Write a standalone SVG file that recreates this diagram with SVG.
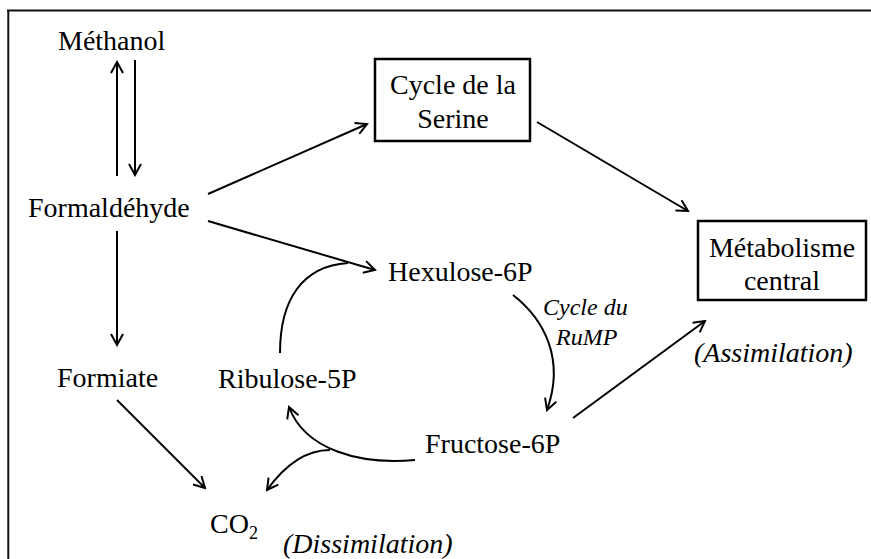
<svg xmlns="http://www.w3.org/2000/svg" width="871" height="559" viewBox="0 0 871 559">
  <defs>
    <marker id="arr" viewBox="0 0 14 14" markerUnits="userSpaceOnUse" markerWidth="14" markerHeight="14" refX="12" refY="7" orient="auto">
      <path d="M1,1 L12,7 L1,13" fill="none" stroke="#000" stroke-width="2"/>
    </marker>
    <style>
      .t { font-family: "Liberation Serif", "Times New Roman", serif; font-size: 28px; fill: #000; }
      .i { font-family: "Liberation Serif", "Times New Roman", serif; font-style: italic; font-size: 28px; fill: #000; }
      .s { font-family: "Liberation Serif", "Times New Roman", serif; font-style: italic; font-size: 24px; fill: #000; }
      .box { fill: none; stroke: #000; stroke-width: 2.5; }
      .c { fill: none; stroke: #000; stroke-width: 2; }
      .a { fill: none; stroke: #000; stroke-width: 2; marker-end: url(#arr); }
    </style>
  </defs>
  <rect width="871" height="559" fill="#fff"/>
  <g id="frame">
    <line x1="7" y1="10.5" x2="871" y2="10.5" stroke="#111" stroke-width="2"/>
    <line x1="8.3" y1="10" x2="8.3" y2="559" stroke="#111" stroke-width="2"/>
  </g>

  <g id="methanol"><text class="t" x="58" y="50">Méthanol</text></g>
  <g id="formaldehyde"><text class="t" x="28" y="217">Formaldéhyde</text></g>
  <g id="serine">
    <rect class="box" x="375" y="59" width="155" height="82"/>
    <text class="t" x="453" y="94" text-anchor="middle">Cycle de la</text>
    <text class="t" x="453" y="128" text-anchor="middle">Serine</text>
  </g>
  <g id="metabolisme">
    <rect class="box" x="698" y="221" width="168" height="79"/>
    <text class="t" x="782" y="257" text-anchor="middle">Métabolisme</text>
    <text class="t" x="782" y="290" text-anchor="middle">central</text>
  </g>
  <g id="assimilation"><text class="i" x="694" y="362">(Assimilation)</text></g>
  <g id="hexulose"><text class="t" x="388" y="281">Hexulose-6P</text></g>
  <g id="rump">
    <text class="s" x="543" y="315">Cycle du</text>
    <text class="s" x="556" y="345">RuMP</text>
  </g>
  <g id="formiate"><text class="t" x="57" y="387">Formiate</text></g>
  <g id="ribulose"><text class="t" x="218" y="388">Ribulose-5P</text></g>
  <g id="fructose"><text class="t" x="425" y="453">Fructose-6P</text></g>
  <g id="co2"><text class="t" x="210" y="533">CO<tspan font-size="18" dy="6">2</tspan></text></g>
  <g id="dissimilation"><text class="i" x="283" y="553">(Dissimilation)</text></g>

  <g id="connectors">
    <path class="a" d="M117,176 L117,62"/>
    <path class="a" d="M135,60 L135,175"/>
    <path class="a" d="M208,194 L367,124"/>
    <path class="a" d="M208,221 L375,270"/>
    <path class="c" d="M280,353 C280,300 302,266 348,263"/>
    <path class="a" d="M537,122 L688,211"/>
    <path class="a" d="M513,295 C545,320 565,360 547,410"/>
    <path class="a" d="M573,418 L705,321"/>
    <path class="a" d="M117,231 L117,345"/>
    <path class="a" d="M117,400 L205,488"/>
    <path class="a" d="M415,460 C360,465 305,450 289,407"/>
    <path class="a" d="M330,450 C305,450 285,465 267,490"/>
  </g>
</svg>
